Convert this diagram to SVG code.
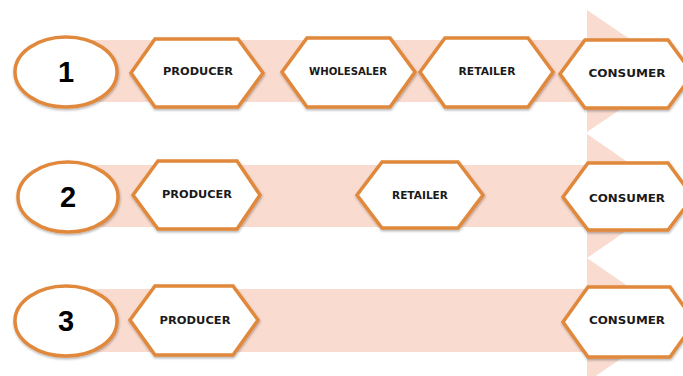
<svg xmlns="http://www.w3.org/2000/svg" width="683" height="376" viewBox="0 0 683 376">
  <style>
    .band { fill: #FADBCF; }
    .hex { fill: #FFFFFF; stroke: #E0883B; stroke-width: 3.5; stroke-linejoin: miter; filter: url(#shadow); }
    .num { fill: #FFFFFF; stroke: #E0883B; stroke-width: 3.5; filter: url(#shadow); }
    .lbl { font-family: "DejaVu Sans", "Liberation Sans", sans-serif; font-weight: bold; font-size: 10px; fill: #1A1A1A; text-anchor: middle; }
    .digit { font-family: "Liberation Sans", Arial, sans-serif; font-weight: bold; font-size: 29px; fill: #000000; text-anchor: middle; }
  </style>
  <defs>
    <filter id="shadow" x="-20%" y="-20%" width="140%" height="150%">
      <feDropShadow dx="0.5" dy="1.5" stdDeviation="1.2" flood-color="#000000" flood-opacity="0.3"/>
    </filter>
  </defs>

  <rect width="683" height="376" fill="#FFFFFF"/>

  <!-- flow arrows behind each channel -->
  <g id="connectors">
    <polygon class="band" points="50,40 587,40 587,10 677,71 587,132 587,102 50,102"/>
    <polygon class="band" points="50,165 587,165 587,134 677,196 587,258 587,227 50,227"/>
    <polygon class="band" points="50,289 587,289 587,258 677,320 587,382 587,352 50,352"/>
  </g>

  <!-- channel 1 -->
  <g id="num-1">
    <ellipse class="num" cx="66" cy="72" rx="51" ry="35"/>
    <text class="digit" x="66" y="82">1</text>
  </g>
  <g id="producer-1">
    <polygon class="hex" points="131,73 155,39 238,39 263,73 238,107 155,107"/>
    <text class="lbl" x="198" y="75" textLength="70" lengthAdjust="spacingAndGlyphs">PRODUCER</text>
  </g>
  <g id="wholesaler-1">
    <polygon class="hex" points="282,72 307,38 390,38 415,72 390,107 307,107"/>
    <text class="lbl" x="348" y="75" textLength="78" lengthAdjust="spacingAndGlyphs">WHOLESALER</text>
  </g>
  <g id="retailer-1">
    <polygon class="hex" points="420,72 445,38 528,38 553,72 528,107 445,107"/>
    <text class="lbl" x="487" y="75" textLength="57" lengthAdjust="spacingAndGlyphs">RETAILER</text>
  </g>
  <g id="consumer-1">
    <polygon class="hex" points="560,74 585,40 668,40 693,74 668,108 585,108"/>
    <text class="lbl" x="627" y="77" textLength="77" lengthAdjust="spacingAndGlyphs">CONSUMER</text>
  </g>

  <!-- channel 2 -->
  <g id="num-2">
    <ellipse class="num" cx="68" cy="197" rx="50" ry="35"/>
    <text class="digit" x="68" y="207">2</text>
  </g>
  <g id="producer-2">
    <polygon class="hex" points="133,195 158,161 237,161 260,195 237,229 158,229"/>
    <text class="lbl" x="197" y="198" textLength="70" lengthAdjust="spacingAndGlyphs">PRODUCER</text>
  </g>
  <g id="retailer-2">
    <polygon class="hex" points="357,195 382,162 458,162 483,195 458,228 382,228"/>
    <text class="lbl" x="420" y="199" textLength="56" lengthAdjust="spacingAndGlyphs">RETAILER</text>
  </g>
  <g id="consumer-2">
    <polygon class="hex" points="563,197 588,163 668,163 693,197 668,230 588,230"/>
    <text class="lbl" x="627" y="202" textLength="76" lengthAdjust="spacingAndGlyphs">CONSUMER</text>
  </g>

  <!-- channel 3 -->
  <g id="num-3">
    <ellipse class="num" cx="66" cy="321" rx="51" ry="35"/>
    <text class="digit" x="66" y="331">3</text>
  </g>
  <g id="producer-3">
    <polygon class="hex" points="130,320 155,286 233,286 258,320 233,355 155,355"/>
    <text class="lbl" x="195" y="324" textLength="71" lengthAdjust="spacingAndGlyphs">PRODUCER</text>
  </g>
  <g id="consumer-3">
    <polygon class="hex" points="563,322 588,287 670,287 695,322 670,357 588,357"/>
    <text class="lbl" x="627" y="324" textLength="76" lengthAdjust="spacingAndGlyphs">CONSUMER</text>
  </g>
</svg>
